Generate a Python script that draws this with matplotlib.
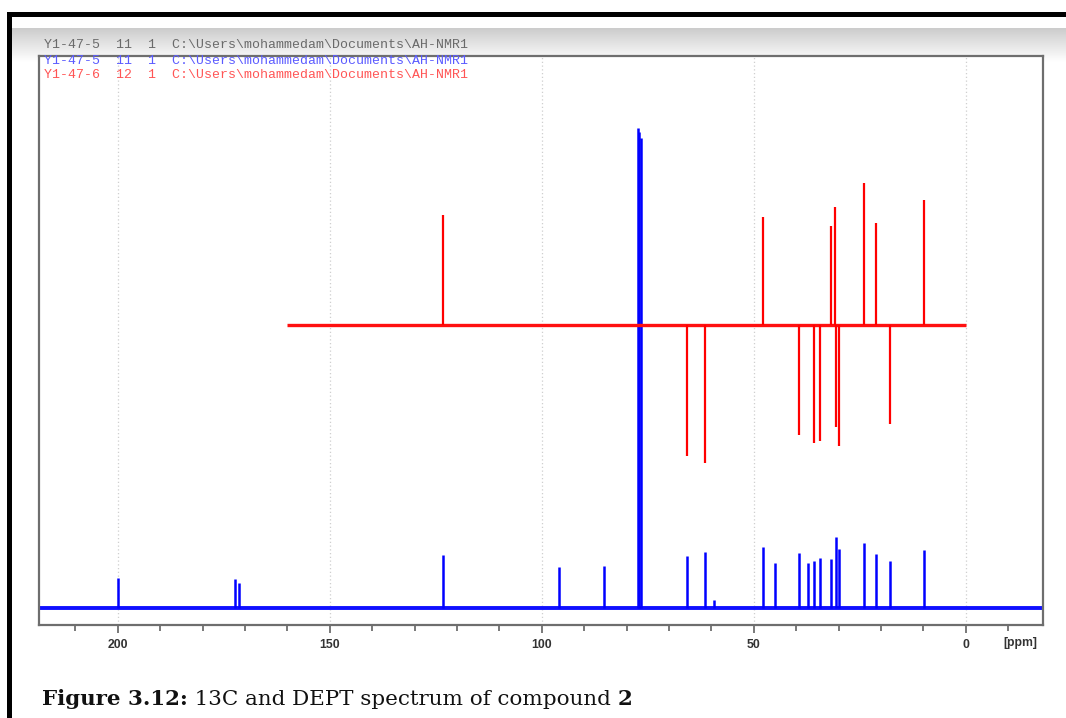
import matplotlib
matplotlib.use("Agg")
import matplotlib.pyplot as plt
import numpy as np
from matplotlib.patches import Rectangle
from matplotlib.ticker import MultipleLocator

# ---------------- data ----------------
# 13C spectrum (blue): chemical shift (ppm) and peak height (arbitrary units)
c13_ppm = [200.0, 172.4, 171.4, 123.3, 96.0, 85.4, 77.4, 77.0, 76.6, 65.8, 61.6, 59.4,
           47.8, 45.1, 39.3, 37.3, 35.8, 34.4, 31.8, 30.7, 29.8, 24.1, 21.1, 17.9, 9.9]
c13_height = [30, 29, 25, 53, 41, 42, 480, 476, 470, 52, 56, 8,
              61, 45, 55, 45, 47, 50, 49, 71, 59, 65, 54, 47, 58]

# DEPT-135 spectrum (red): positive = CH/CH3, negative = CH2
dept_ppm = [123.3, 65.8, 61.6, 47.8, 39.3, 35.8, 34.4, 31.8, 30.8, 30.6, 29.8, 24.1, 21.1, 17.9, 9.9]
dept_height = [110, -131, -138, 108, -110, -118, -116, 99, 118, -102, -121, 142, 102, -99, 125]

dept_offset = 283          # vertical offset of the DEPT trace
dept_range = [160.0, 0.0]  # ppm range recorded for DEPT
c13_range = [218.6, -18.2]

major_ticks = [200, 150, 100, 50, 0]
legend_rows = ["Y1-47-5  11  1  C:\\Users\\mohammedam\\Documents\\AH-NMR1",
               "Y1-47-5  11  1  C:\\Users\\mohammedam\\Documents\\AH-NMR1",
               "Y1-47-6  12  1  C:\\Users\\mohammedam\\Documents\\AH-NMR1"]
legend_colors = ["#6a6a6a", "#5b5bff", "#ff5555"]

W, H = 1066, 718
fig = plt.figure(figsize=(W / 100, H / 100), dpi=100)
fig.patch.set_facecolor("white")

def fx(x):
    return x / W

def fy(y):
    return 1 - y / H

# gray gradient band at top
grad_ax = fig.add_axes([fx(12), fy(62), fx(1066 - 12), (62 - 28) / H])
grad = np.linspace(0.80, 1.0, 64).reshape(-1, 1)
grad_ax.imshow(np.dstack([grad, grad, grad]), aspect="auto", extent=[0, 1, 0, 1], origin="upper")
grad_ax.set_axis_off()

# black frame (top & left)
fig.patches.append(Rectangle((fx(7), fy(17)), fx(1066 - 7), 5 / H, transform=fig.transFigure,
                             facecolor="black", edgecolor="none", zorder=5))
fig.patches.append(Rectangle((fx(7), 0), 5 / W, fy(12), transform=fig.transFigure,
                             facecolor="black", edgecolor="none", zorder=5))

# main axes
ax = fig.add_axes([fx(39), fy(625), fx(1043 - 39), (625 - 56) / H])
ax.set_facecolor("white")
ax.set_xlim(c13_range[0], c13_range[1])
ax.set_ylim(-17, 552)

for t in major_ticks:
    ax.axvline(t, color="#cfcfcf", linestyle=(0, (1, 2)), lw=0.9, zorder=0)

# 13C trace
ax.plot(c13_range, [0, 0], color="#1010ff", lw=2.8, solid_capstyle="butt", zorder=2)
ax.vlines(c13_ppm, 0, c13_height, color="#0000ff", lw=1.8, zorder=2)

# DEPT trace
ax.plot(dept_range, [dept_offset, dept_offset], color="#ff1010", lw=2.4, solid_capstyle="butt", zorder=3)
ax.vlines(dept_ppm, dept_offset, np.array(dept_height) + dept_offset, color="#ff0000", lw=1.6, zorder=3)

for s in ax.spines.values():
    s.set_color("#6e6e6e")
    s.set_linewidth(1.6)

ax.set_xticks(major_ticks)
ax.xaxis.set_minor_locator(MultipleLocator(10))
ax.tick_params(axis="x", which="major", direction="out", length=6, width=1.1, color="#555555",
               pad=4, labelsize=8.8, labelcolor="#333333")
ax.tick_params(axis="x", which="minor", direction="out", length=4, width=1.1, color="#555555")
for lab in ax.get_xticklabels():
    lab.set_fontweight("bold")
    lab.set_family("Liberation Sans")
ax.set_yticks([])

fig.text(fx(1020), fy(643), "[ppm]", ha="center", va="center", fontsize=8.8,
         fontweight="bold", color="#333333", family="Liberation Sans")

# header rows
row_y = [45, 61, 75]
for y, row, col in zip(row_y, legend_rows, legend_colors):
    fig.text(fx(44), fy(y), row, ha="left", va="center", fontsize=9.5,
             family="Liberation Mono", color=col, zorder=10)

# caption, fitted to the reference width
fig.canvas.draw()
renderer = fig.canvas.get_renderer()
parts = [("Figure 3.12:", "bold"), (" 13C and DEPT spectrum of compound ", "normal"), ("2", "bold")]
target_w = 633 - 42

def caption_width(fs):
    tot = 0
    for txt, wt in parts:
        t = fig.text(0, 0, txt, fontsize=fs, fontweight=wt, family="DejaVu Serif")
        tot += t.get_window_extent(renderer).width
        t.remove()
    return tot

fs = 15 * target_w / caption_width(15)
xpos = 42
for txt, wt in parts:
    t = fig.text(fx(xpos), fy(705), txt, ha="left", va="baseline", fontsize=fs,
                 fontweight=wt, family="DejaVu Serif", color="#111111")
    xpos += t.get_window_extent(renderer).width

fig.savefig("out.png", dpi=100, facecolor="white")
